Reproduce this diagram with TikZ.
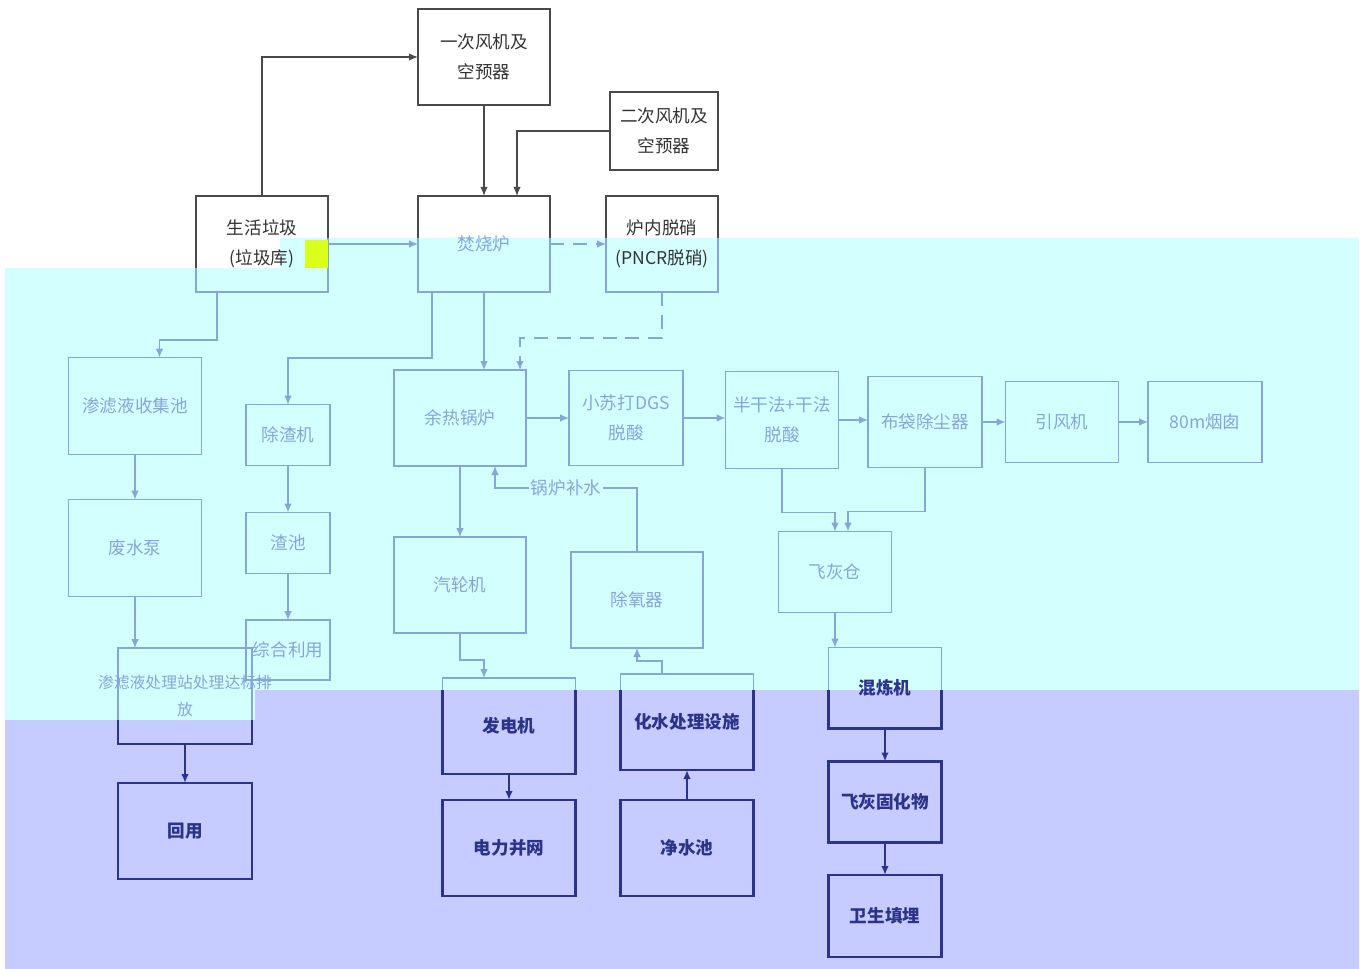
\documentclass[tikz,border=0pt]{standalone}
\usepackage{fontspec}
\newfontfamily\cjk{Noto Sans CJK SC}
\usetikzlibrary{arrows.meta,calc}

\definecolor{bgcyan}{HTML}{D4FFFF}
\definecolor{bglav}{HTML}{C6CCFF}
\definecolor{darkln}{HTML}{4A4A4A}
\definecolor{paleln}{HTML}{86A6D6}
\definecolor{navyln}{HTML}{2C3388}
\definecolor{oddyel}{HTML}{D9FF1A}

\tikzset{
  box/.style 2 args={draw=paleln, line width=0.6pt, text=paleln, outer sep=0pt,
    minimum width=#1*0.02cm, minimum height=#2*0.02cm,
    inner sep=1pt, align=center, font=\cjk\fontsize{10}{17}\selectfont},
  topbox/.style={text=black!80},
  navybox/.style={text=navyln, font=\cjk\bfseries\fontsize{10}{17}\selectfont},
  arr/.style={-{Latex[length=1.8mm,width=1.5mm]}, line width=0.6pt},
  darkarr/.style={arr, draw=darkln, line width=0.8pt},
  palearr/.style={arr, draw=paleln},
  navyarr/.style={arr, draw=navyln, line width=1.2pt},
  lbl/.style={fill=bgcyan, text=paleln, inner sep=1pt, font=\cjk\fontsize{10}{12}\selectfont}
}

\begin{document}
\begin{tikzpicture}[x=0.02cm,y=0.02cm]
  \useasboundingbox (0,0) rectangle (1368,-969);
  \fill[white] (0,0) rectangle (1368,-969);
  \fill[bgcyan] (5,-268) -- (280,-268) -- (280,-238) -- (1359,-238) -- (1359,-690)
    -- (255,-690) -- (255,-720) -- (5,-720) -- cycle;
  \fill[bglav] (5,-720) -- (255,-720) -- (255,-690) -- (1359,-690) -- (1359,-969)
    -- (5,-969) -- cycle;

  \node[box={132}{96},topbox] (fan1) at (484,-57) {一次风机及\\空预器};
  \node[box={108}{78},topbox] (fan2) at (664,-131) {二次风机及\\空预器};
  \node[box={132}{96},topbox] (waste) at (262,-244) {生活垃圾\\(垃圾库)};
  \node[box={132}{96}] (furnace) at (484,-244) {焚烧炉};
  \node[box={112}{96},topbox] (sncr) at (662,-244) {炉内脱硝\\(PNCR脱硝)};

  \node[box={133}{97}] (leach) at (135,-406) {渗滤液收集池};
  \node[box={133}{97}] (pump) at (135,-548) {废水泵};
  \node[box={84}{61}] (slag) at (288,-435) {除渣机};
  \node[box={84}{61}] (pit) at (288,-543) {渣池};
  \node[box={84}{60}] (use) at (288,-650) {综合利用};
  \node[box={132}{96}] (boiler) at (460,-418) {余热锅炉};
  \node[box={114}{95}] (dgs) at (626,-418) {小苏打DGS\\脱酸};
  \node[box={113}{97}] (semi) at (782,-420) {半干法+干法\\脱酸};
  \node[box={114}{91}] (bag) at (925,-422) {布袋除尘器};
  \node[box={113}{81}] (idfan) at (1062,-422) {引风机};
  \node[box={114}{81}] (stack) at (1205,-422) {80m烟囱};
  \node[box={132}{96}] (turbine) at (460,-585) {汽轮机};
  \node[box={132}{96}] (deaer) at (637,-600) {除氧器};
  \node[box={113}{81}] (ash) at (835,-572) {飞灰仓};

  \node[box={134}{96},font=\cjk\fontsize{9}{15}\selectfont] (ltreat) at (185,-696)
    {\makebox[0pt]{渗滤液处理站处理达标排}\\\makebox[0pt]{放}};
  \node[box={134}{96},navybox] (reuse) at (185,-831) {回用};
  \node[box={133}{96},navybox] (gen) at (509,-726) {发电机};
  \node[box={133}{96},navybox] (grid) at (509,-848) {电力并网};
  \node[box={133}{96},navybox] (chem) at (687,-722) {化水处理设施};
  \node[box={133}{96},navybox] (pure) at (687,-848) {净水池};
  \node[box={113}{81},navybox] (mix) at (885,-688) {混炼机};
  \node[box={113}{81},navybox] (solid) at (885,-802) {飞灰固化物};
  \node[box={113}{82},navybox] (landfill) at (885,-916) {卫生填埋};

  \begin{scope}
    \clip (0,0) -- (1368,0) -- (1368,-238) -- (280,-238) -- (280,-268) -- (0,-268) -- cycle;
    \foreach \n in {fan1,fan2,waste,furnace,sncr}
      \draw[darkln, line width=1pt] (\n.south west) rectangle (\n.north east);
  \end{scope}
  \begin{scope}
    \clip (0,-720) -- (255,-720) -- (255,-690) -- (1368,-690) -- (1368,-969) -- (0,-969) -- cycle;
    \foreach \n in {ltreat,reuse,gen,grid,chem,pure,mix,solid,landfill}
      \draw[navyln, line width=1.4pt] (\n.south west) rectangle (\n.north east);
  \end{scope}

  \draw[darkarr] (waste.north) |- (fan1.west);
  \draw[darkarr] (fan1) -- (furnace);
  \draw[darkarr] (fan2.west) -| ([xshift=0.66cm]furnace.north);
  \draw[palearr] (waste) -- (furnace);
  \draw[palearr,dash pattern=on 8pt off 5pt] (furnace) -- (sncr);

  \draw[palearr] ([xshift=-0.9cm]waste.south) -- ++(0,-48) -| ([xshift=0.49cm]leach.north);
  \draw[palearr] (leach) -- (pump);
  \draw[palearr] (pump.south) -- (pump.south |- ltreat.north);
  \draw[navyarr] (ltreat) -- (reuse);
  \draw[palearr] ([xshift=-1.04cm]furnace.south) -- ++(0,-66) -| (slag.north);
  \draw[palearr] (slag) -- (pit);
  \draw[palearr] (pit) -- (use);

  \draw[palearr] (furnace.south) -- (furnace.south |- boiler.north);
  \draw[palearr,dash pattern=on 8pt off 5pt] (sncr.south) -- ++(0,-46) -| ([xshift=1.2cm]boiler.north);
  \draw[palearr] (boiler.east) -- (boiler.east -| dgs.west);
  \draw[palearr] (dgs.east) -- (dgs.east -| semi.west);
  \draw[palearr] (semi.east) -- (semi.east -| bag.west);
  \draw[palearr] (bag.east) -- (bag.east -| idfan.west);
  \draw[palearr] (idfan.east) -- (idfan.east -| stack.west);

  \draw[palearr] (boiler) -- (turbine);
  \draw[palearr] (turbine.south) -- ++(0,-27) -| ([xshift=-0.5cm]gen.north);
  \draw[navyarr] (gen) -- (grid);
  \draw[navyarr] (pure) -- (chem);
  \draw[palearr] ([xshift=-0.5cm]chem.north) -- ++(0,13) -| (deaer.south);
  \draw[palearr] (deaer.north) -- ++(0,64) -| node[lbl,pos=0.25] {锅炉补水} ([xshift=0.7cm]boiler.south);

  \draw[palearr] (semi.south) -- ++(0,-44) -| (ash.north);
  \draw[palearr] (bag.south) -- ++(0,-44) -| ([xshift=0.26cm]ash.north);
  \draw[palearr] (ash.south) -- (ash.south |- mix.north);
  \draw[navyarr] (mix) -- (solid);
  \draw[navyarr] (solid) -- (landfill);

  \fill[oddyel] (305,-240) rectangle (328,-268);
\end{tikzpicture}
\end{document}
